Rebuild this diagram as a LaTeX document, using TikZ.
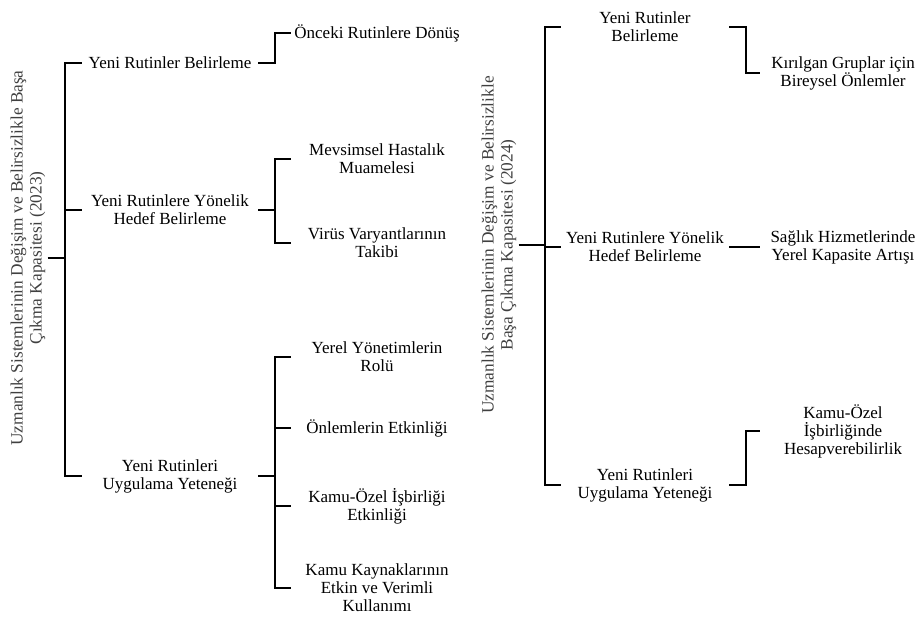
\documentclass[tikz,border=0pt]{standalone}
\usepackage{fontspec}
\setmainfont{Liberation Serif}

\tikzstyle{bar}=[line width=2.6pt, black]
\tikzstyle{rootbox}=[rotate=90,
                     inner sep=2pt,
                     align=center,
                     text=black!75,
                     font=\fontsize{17.3}{19}\selectfont]
\tikzstyle{aimnode}=[inner sep=4pt,
                     minimum width=176pt,
                     align=center,
                     font=\fontsize{17}{18}\selectfont]
\tikzstyle{subnode}=[inner sep=3pt,
                     minimum width=172pt,
                     align=center,
                     font=\fontsize{17}{18}\selectfont]

\begin{document}
\begin{tikzpicture}[x=1pt,y=-1pt]
    \useasboundingbox (0,0) rectangle (921,616);
    % 2023
    \node [rootbox] (rootA) at (28,258) {Uzmanlık Sistemlerinin Değişim ve Belirsizlikle Başa\\Çıkma Kapasitesi (2023)};
    \coordinate (spineA) at (65,0);
    \coordinate (spineAA) at (275,0);
    \node [aimnode] (cA1) at (170,63) {Yeni Rutinler Belirleme};
    \node [aimnode] (cA2) at (170,210) {Yeni Rutinlere Yönelik\\Hedef Belirleme};
    \node [aimnode] (cA3) at (170,476) {Yeni Rutinleri\\Uygulama Yeteneği};
    \node [subnode] (gA1) at (377,33) {Önceki Rutinlere Dönüş};
    \node [subnode] (gA21) at (377,159) {Mevsimsel Hastalık\\Muamelesi};
    \node [subnode] (gA22) at (377,243) {Virüs Varyantlarının\\Takibi};
    \node [subnode] (gA31) at (377,357) {Yerel Yönetimlerin\\Rolü};
    \node [subnode] (gA32) at (377,428) {Önlemlerin Etkinliği};
    \node [subnode] (gA33) at (377,506) {Kamu-Özel İşbirliği\\Etkinliği};
    \node [subnode] (gA34) at (377,588) {Kamu Kaynaklarının\\Etkin ve Verimli\\Kullanımı};
    \draw [bar] (rootA.south) -- (rootA.south -| spineA);
    \draw [bar] (cA1.west) -| (spineA |- cA3.west) -- (cA3.west);
    \draw [bar] (cA2.west) -- (cA2.west -| spineA);
    \draw [bar] (cA1.east) -| (spineAA |- gA1.west) -- (gA1.west);
    \draw [bar] (gA21.west) -| (spineAA |- gA22.west) -- (gA22.west);
    \draw [bar] (cA2.east) -- (cA2.east -| spineAA);
    \draw [bar] (gA31.west) -| (spineAA |- gA34.west) -- (gA34.west);
    \foreach \n in {cA3.east, gA32.west, gA33.west}
        \draw [bar] (\n) -- (\n -| spineAA);
    % 2024
    \node [rootbox] (rootB) at (499,245) {Uzmanlık Sistemlerinin Değişim ve Belirsizlikle\\Başa Çıkma Kapasitesi (2024)};
    \coordinate (spineB) at (545,0);
    \coordinate (spineBB) at (746,0);
    \node [aimnode, minimum width=168pt] (cB1) at (645,27) {Yeni Rutinler\\Belirleme};
    \node [aimnode, minimum width=168pt] (cB2) at (645,247) {Yeni Rutinlere Yönelik\\Hedef Belirleme};
    \node [aimnode, minimum width=168pt] (cB3) at (645,485) {Yeni Rutinleri\\Uygulama Yeteneği};
    \node [subnode, minimum width=166pt] (gB1) at (843,73) {Kırılgan Gruplar için\\Bireysel Önlemler};
    \node [subnode, minimum width=166pt] (gB2) at (843,247) {Sağlık Hizmetlerinde\\Yerel Kapasite Artışı};
    \node [subnode, minimum width=166pt] (gB3) at (843,431) {Kamu-Özel\\İşbirliğinde\\Hesapverebilirlik};
    \draw [bar] (rootB.south) -- (rootB.south -| spineB);
    \draw [bar] (cB1.west) -| (spineB |- cB3.west) -- (cB3.west);
    \draw [bar] (cB2.west) -- (cB2.west -| spineB);
    \foreach \c/\g in {cB1/gB1, cB2/gB2, cB3/gB3}
        \draw [bar] (\c.east) -| (spineBB |- \g.west) -- (\g.west);
\end{tikzpicture}
\end{document}
